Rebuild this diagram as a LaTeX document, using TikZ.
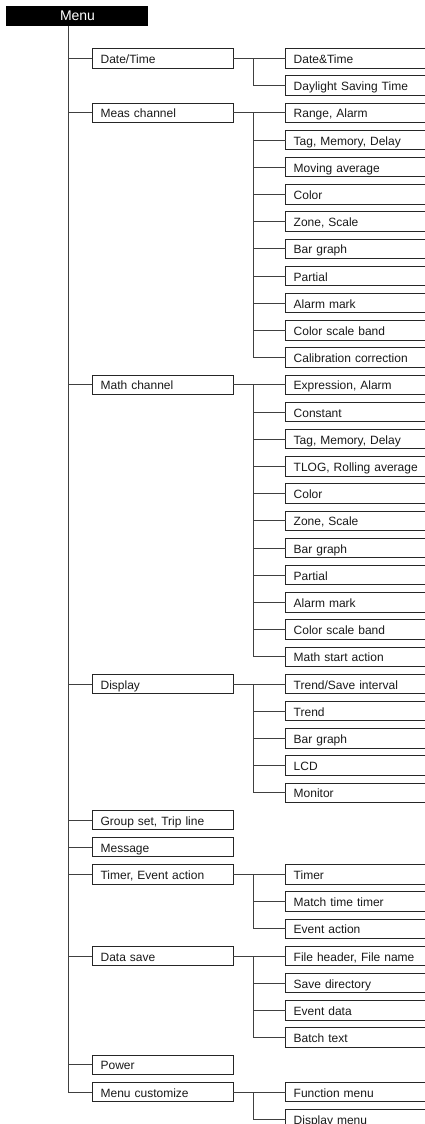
\documentclass[tikz,border=0pt]{standalone}
\usepackage{fontspec}
\setmainfont{Liberation Sans}
\newcommand\rowpos[1]{58.4+27.2*#1}
\begin{document}
\begin{tikzpicture}[x=1pt,y=-1pt]
\tikzset{
 boxtext/.style={font=\fontsize{12}{14}\selectfont, text=black!90, inner ysep=0pt, outer sep=0pt,
   text height=10.5pt, text depth=0.5pt, minimum height=19.4pt, align=left, anchor=west},
 levone/.style={boxtext, draw=black!85, line width=0.9pt, inner xsep=8.6pt, text width=123.8pt},
 levtwo/.style={boxtext, inner xsep=8pt, text width=123.3pt},
 openbox/.style={draw=black!85, line width=0.9pt},
 conn/.style={draw=black!75, line width=0.9pt},
}
\useasboundingbox (0,0) rectangle (425,1124);
% root
\node[fill=black, inner sep=0pt, outer sep=0pt, minimum height=20pt, text width=142pt, align=left,
  anchor=north west, font=\fontsize{14}{16}\selectfont, text=white, text height=11pt, text depth=1pt]
  (menu) at (6,6) {\hspace*{54pt}Menu};
\coordinate (trunk) at ([xshift=62.3pt]menu.south west);
% level one
\node[levone] (dt) at (92,{\rowpos{0}}) {Date/Time};
\node[levone] (mc) at (92,{\rowpos{2}}) {Meas channel};
\node[levone] (ma) at (92,{\rowpos{12}}) {Math channel};
\node[levone] (di) at (92,{\rowpos{23}}) {Display};
\node[levone] (gs) at (92,{\rowpos{28}}) {Group set, Trip line};
\node[levone] (ms) at (92,{\rowpos{29}}) {Message};
\node[levone] (te) at (92,{\rowpos{30}}) {Timer, Event action};
\node[levone] (ds) at (92,{\rowpos{33}}) {Data save};
\node[levone] (pw) at (92,{\rowpos{37}}) {Power};
\node[levone] (mu) at (92,{\rowpos{38}}) {Menu customize};
% level two
\node[levtwo] (dt1) at (285.7,{\rowpos{0}}) {Date\&Time};
\node[levtwo] (dt2) at (285.7,{\rowpos{1}}) {\mbox{Daylight Saving Time}};
\node[levtwo] (mc1) at (285.7,{\rowpos{2}}) {Range, Alarm};
\node[levtwo] (mc2) at (285.7,{\rowpos{3}}) {Tag, Memory, Delay};
\node[levtwo] (mc3) at (285.7,{\rowpos{4}}) {Moving average};
\node[levtwo] (mc4) at (285.7,{\rowpos{5}}) {Color};
\node[levtwo] (mc5) at (285.7,{\rowpos{6}}) {Zone, Scale};
\node[levtwo] (mc6) at (285.7,{\rowpos{7}}) {Bar graph};
\node[levtwo] (mc7) at (285.7,{\rowpos{8}}) {Partial};
\node[levtwo] (mc8) at (285.7,{\rowpos{9}}) {Alarm mark};
\node[levtwo] (mc9) at (285.7,{\rowpos{10}}) {Color scale band};
\node[levtwo] (mc10) at (285.7,{\rowpos{11}}) {\mbox{Calibration correction}};
\node[levtwo] (ma1) at (285.7,{\rowpos{12}}) {Expression, Alarm};
\node[levtwo] (ma2) at (285.7,{\rowpos{13}}) {Constant};
\node[levtwo] (ma3) at (285.7,{\rowpos{14}}) {Tag, Memory, Delay};
\node[levtwo] (ma4) at (285.7,{\rowpos{15}}) {\mbox{TLOG, Rolling average}};
\node[levtwo] (ma5) at (285.7,{\rowpos{16}}) {Color};
\node[levtwo] (ma6) at (285.7,{\rowpos{17}}) {Zone, Scale};
\node[levtwo] (ma7) at (285.7,{\rowpos{18}}) {Bar graph};
\node[levtwo] (ma8) at (285.7,{\rowpos{19}}) {Partial};
\node[levtwo] (ma9) at (285.7,{\rowpos{20}}) {Alarm mark};
\node[levtwo] (ma10) at (285.7,{\rowpos{21}}) {Color scale band};
\node[levtwo] (ma11) at (285.7,{\rowpos{22}}) {Math start action};
\node[levtwo] (di1) at (285.7,{\rowpos{23}}) {Trend/Save interval};
\node[levtwo] (di2) at (285.7,{\rowpos{24}}) {Trend};
\node[levtwo] (di3) at (285.7,{\rowpos{25}}) {Bar graph};
\node[levtwo] (di4) at (285.7,{\rowpos{26}}) {LCD};
\node[levtwo] (di5) at (285.7,{\rowpos{27}}) {Monitor};
\node[levtwo] (te1) at (285.7,{\rowpos{30}}) {Timer};
\node[levtwo] (te2) at (285.7,{\rowpos{31}}) {Match time timer};
\node[levtwo] (te3) at (285.7,{\rowpos{32}}) {Event action};
\node[levtwo] (ds1) at (285.7,{\rowpos{33}}) {\mbox{File header, File name}};
\node[levtwo] (ds2) at (285.7,{\rowpos{34}}) {Save directory};
\node[levtwo] (ds3) at (285.7,{\rowpos{35}}) {Event data};
\node[levtwo] (ds4) at (285.7,{\rowpos{36}}) {Batch text};
\node[levtwo] (mu1) at (285.7,{\rowpos{38}}) {Function menu};
\node[levtwo] (mu2) at (285.7,{\rowpos{39}}) {Display menu};
% open boxes (right edge runs off the page)
\foreach \n in {dt1,dt2,mc1,mc2,mc3,mc4,mc5,mc6,mc7,mc8,mc9,mc10,
  ma1,ma2,ma3,ma4,ma5,ma6,ma7,ma8,ma9,ma10,ma11,di1,di2,di3,di4,di5,
  te1,te2,te3,ds1,ds2,ds3,ds4,mu1,mu2}
  \draw[openbox] (\n.north east) -- (\n.north west) -- (\n.south west) -- (\n.south east);
% trunk
\foreach \p in {dt,mc,ma,di,gs,ms,te,ds,pw,mu}
  \draw[conn] (trunk) |- (\p.west);
% branches
\foreach \p/\k in {dt/2,mc/10,ma/11,di/5,te/3,ds/4,mu/2} {
  \draw[conn] (\p.east) -- (\p1.west);
  \foreach \i in {2,...,\k}
    \draw[conn] ([xshift=20.3pt]\p.east) |- (\p\i.west);
}
\end{tikzpicture}
\end{document}
